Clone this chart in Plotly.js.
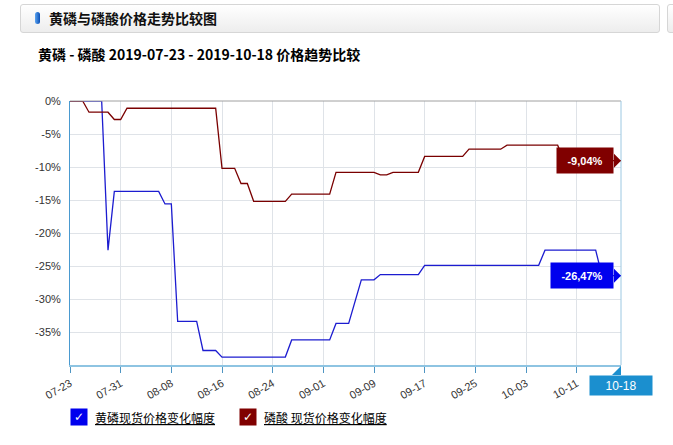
<!DOCTYPE html>
<html>
<head>
<meta charset="utf-8">
<script src="https://cdn.plot.ly/plotly-3.0.1.min.js"></script>
<style>
  body { margin: 0; background: #fff; }
  #graphDiv { position: absolute; left: 0; top: 0; width: 673px; height: 445px; }
  .hdr { position: absolute; left: 20px; top: 4px; width: 638px; height: 27px;
         border: 1px solid #d6d6d6; border-radius: 3px;
         background: linear-gradient(#ffffff, #ededed); }
  .hdr .icon { position: absolute; left: 14px; top: 7px; width: 5px; height: 12px; border-radius: 3px;
               background: linear-gradient(90deg, #5aa4f0, #0b4fb5); }
  .hdr .txt { position: absolute; left: 28px; top: 3px; font: bold 14px "Noto Sans CJK SC"; color: #111; }
  .hdr2 { position: absolute; left: 667px; top: 4px; width: 20px; height: 27px;
          border: 1px solid #d6d6d6; border-radius: 3px; background: linear-gradient(#ffffff, #ededed); }
</style>
</head>
<body>
<div id="graphDiv"></div>
<div class="hdr"><div class="icon"></div><div class="txt">黄磷与磷酸价格走势比较图</div></div>
<div class="hdr2"></div>
<script>
// 黄磷 change points
const ypDates = ['2019-07-23', '2019-07-28', '2019-07-29', '2019-07-30', '2019-08-06', '2019-08-07',
                 '2019-08-08', '2019-08-09', '2019-08-12', '2019-08-13', '2019-08-15', '2019-08-16',
                 '2019-08-26', '2019-08-27', '2019-09-02', '2019-09-03', '2019-09-05', '2019-09-07',
                 '2019-09-09', '2019-09-10', '2019-09-16', '2019-09-17', '2019-10-05', '2019-10-06',
                 '2019-10-14', '2019-10-15', '2019-10-18'];
const ypValues = [0, 0, -22.6, -13.7, -13.7, -15.6,
                  -15.6, -33.4, -33.4, -37.8, -37.8, -38.8,
                  -38.8, -36.2, -36.2, -33.7, -33.7, -27.1,
                  -27.1, -26.3, -26.3, -24.9, -24.9, -22.6,
                  -22.6, -26.47, -26.47];

// 磷酸 change points
const psDates = ['2019-07-23', '2019-07-25', '2019-07-26', '2019-07-29', '2019-07-30', '2019-07-31',
                 '2019-08-01', '2019-08-15', '2019-08-16', '2019-08-18', '2019-08-19', '2019-08-20',
                 '2019-08-21', '2019-08-26', '2019-08-27', '2019-09-02', '2019-09-03', '2019-09-09',
                 '2019-09-10', '2019-09-11', '2019-09-12', '2019-09-16', '2019-09-17', '2019-09-23',
                 '2019-09-24', '2019-09-29', '2019-09-30', '2019-10-08', '2019-10-09', '2019-10-18'];
const psValues = [0, 0, -1.7, -1.7, -2.8, -2.8,
                  -1.1, -1.1, -10.2, -10.2, -12.5, -12.5,
                  -15.2, -15.2, -14.1, -14.1, -10.8, -10.8,
                  -11.2, -11.2, -10.8, -10.8, -8.4, -8.4,
                  -7.3, -7.3, -6.7, -6.7, -9.04, -9.04];

const seriesNames = ['黄磷现货价格变化幅度', '磷酸 现货价格变化幅度'];
const seriesColors = ['#0000ee', '#800000'];
const endLabels = ['-26,47%', '-9,04%'];

const xTicks = ['2019-07-23', '2019-07-31', '2019-08-08', '2019-08-16', '2019-08-24', '2019-09-01',
                '2019-09-09', '2019-09-17', '2019-09-25', '2019-10-03', '2019-10-11'];
const xTickText = xTicks.map(d => d.slice(5));
const yTicks = [0, -5, -10, -15, -20, -25, -30, -35];
const yTickText = yTicks.map(v => v + '%');
const xStart = '2019-07-23', xEnd = '2019-10-18';

drawChart();

function drawChart(){
  const trace1 = {
    x: ypDates, y: ypValues, mode: 'lines', type: 'scatter', name: seriesNames[0],
    line: {color: '#1c1cd0', width: 1.3}, showlegend: false
  };
  const trace2 = {
    x: psDates, y: psValues, mode: 'lines', type: 'scatter', name: seriesNames[1],
    line: {color: '#7a0000', width: 1.3}, showlegend: false
  };

  const lastYp = ypValues[ypValues.length - 1];
  const lastPs = psValues[psValues.length - 1];
  const lastDate = ypDates[ypDates.length - 1];

  // value boxes at the end of each line
  const endBox = (val, txt, color, w) => ({
    x: lastDate, y: val, xref: 'x', yref: 'y', text: '<b>' + txt + '</b>', showarrow: false,
    xanchor: 'right', xshift: -7, bgcolor: color, width: w, height: 17, borderpad: 4,
    font: {family: 'Liberation Sans, Arial', size: 11, color: '#fff'}
  });
  const tipShape = (val, color) => ({
    type: 'path', xref: 'x', yref: 'y', xsizemode: 'pixel', ysizemode: 'pixel',
    xanchor: lastDate, yanchor: val, path: 'M-7,-7 L0,0 L-7,7 Z',
    fillcolor: color, line: {width: 0}
  });

  // legend drawn as checkbox + underlined name
  const legendItems = [];
  const legendX = [[0, 0.0417], [0.3067, 0.348]];
  seriesNames.forEach((n, i) => {
    legendItems.push({
      x: legendX[i][0], y: -0.197, xref: 'paper', yref: 'paper', xanchor: 'left', yanchor: 'middle',
      text: '<b>✓</b>', showarrow: false, bgcolor: seriesColors[i], width: 12, height: 12, borderpad: 2,
      font: {family: 'DejaVu Sans', size: 12, color: '#fff'}
    });
    legendItems.push({
      x: legendX[i][1], y: -0.197, xref: 'paper', yref: 'paper', xanchor: 'left', yanchor: 'middle',
      text: '<u>' + n + '</u>', showarrow: false,
      font: {family: 'Noto Sans CJK SC', size: 12, color: '#000'}
    });
  });

  let layout = {
    width: 673, height: 445,
    margin: {l: 70, r: 52, t: 101, b: 80},
    paper_bgcolor: 'rgba(0,0,0,0)', plot_bgcolor: '#fff',
    title: {
      text: '<b>黄磷 - 磷酸 2019-07-23 - 2019-10-18 价格趋势比较</b>',
      x: 38 / 673, xref: 'container', xanchor: 'left',
      y: 1 - 55 / 445, yref: 'container', yanchor: 'middle',
      font: {family: 'Noto Sans CJK SC', size: 14, color: '#000'}
    },
    xaxis: {
      type: 'date', range: [xStart, xEnd],
      tickvals: xTicks, ticktext: xTickText, tickangle: -30,
      ticks: 'outside', ticklen: 6, tickcolor: '#4f95c2', tickwidth: 1,
      showgrid: true, gridcolor: '#dfe3e8', gridwidth: 1,
      showline: true, linecolor: '#8ec4e2', linewidth: 2,
      zeroline: false,
      tickfont: {family: 'Liberation Sans, Arial', size: 11, color: '#333'}
    },
    yaxis: {
      range: [-40, 0], tickvals: yTicks, ticktext: yTickText,
      showgrid: true, gridcolor: '#dfe3e8', gridwidth: 1,
      showline: true, linecolor: '#4a9ad0', linewidth: 1,
      zeroline: false, ticks: '', ticklabelstandoff: 6,
      tickfont: {family: 'Liberation Sans, Arial', size: 11, color: '#333'}
    },
    shapes: [
      {type: 'line', xref: 'paper', yref: 'paper', x0: 0, x1: 1, y0: 1, y1: 1, line: {color: '#a0a0a0', width: 1}},
      {type: 'line', xref: 'paper', yref: 'paper', x0: 1, x1: 1, y0: 0, y1: 1, line: {color: '#9cc8e2', width: 1}},
      tipShape(lastPs, '#800000'),
      tipShape(lastYp, '#0000ee'),
      {type: 'path', xref: 'x', yref: 'paper', xsizemode: 'pixel', ysizemode: 'pixel',
       xanchor: xEnd, yanchor: 0, path: 'M-9,-10 L0,-1 L9,-10 Z', fillcolor: '#1b8fcf', line: {width: 0}}
    ],
    annotations: [
      endBox(lastPs, endLabels[1], '#800000', 48),
      endBox(lastYp, endLabels[0], '#0000ee', 54),
      {x: xEnd, y: 0, xref: 'x', yref: 'paper', yanchor: 'top', yshift: -10, showarrow: false,
       text: xEnd.slice(5), bgcolor: '#1b8fcf', width: 56, height: 13, borderpad: 3,
       font: {family: 'Liberation Sans, Arial', size: 12, color: '#fff'}}
    ].concat(legendItems),
    showlegend: false
  };

  Plotly.newPlot('graphDiv', [trace1, trace2], layout, {staticPlot: true});
}
</script>
</body>
</html>
